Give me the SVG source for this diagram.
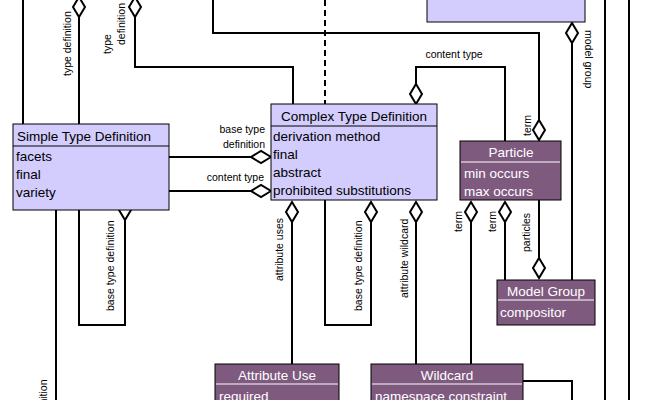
<svg xmlns="http://www.w3.org/2000/svg" width="650" height="400" viewBox="0 0 650 400">
<style>
text{font-family:"Liberation Sans",Arial,sans-serif}
.lt{fill:#d3cdfd;stroke:#000;stroke-width:1}
.dk{fill:#7f5a7f;stroke:#000;stroke-width:1}
.ht{font-size:13.5px;fill:#000}
.hw{font-size:13.5px;fill:#fff}
.sepl{stroke:#000;stroke-width:1}
.sepd{stroke:#fff;stroke-width:1}
.lbl{font-size:10.5px;fill:#000}
.c{fill:none;stroke:#000;stroke-width:2}
.d{fill:#fff;stroke:#000;stroke-width:2}
</style>
<rect width="650" height="400" fill="#fff"/>
<g id="connectors">
<path class="c" d="M23 0V124"/>
<path class="c" d="M79 16V124"/>
<path class="c" d="M135 16V67H293V104"/>
<path class="c" d="M213 0V33H539V120"/>
<path class="c" d="M325 0V104" stroke-dasharray="6,4"/>
<path class="c" d="M416 84V67H505V141"/>
<path class="c" d="M572 43V280"/>
<path class="c" d="M605 0V400"/>
<path class="c" d="M629 0V400"/>
<path class="c" d="M169 157H251"/>
<path class="c" d="M169 191H251"/>
<path class="c" d="M56 210V400"/>
<path class="c" d="M79 210V325H125V220"/>
<path class="c" d="M292 222V364"/>
<path class="c" d="M325 200V325H371V222"/>
<path class="c" d="M416 222V364"/>
<path class="c" d="M471 222V364"/>
<path class="c" d="M505 222V280"/>
<path class="c" d="M539 200V258"/>
<path class="c" d="M523 381H572V400"/>
<path class="d" d="M79 -3l6 10-6 10-6-10z"/>
<path class="d" d="M135 -3l6 10-6 10-6-10z"/>
<path class="d" d="M539 120l6 10-6 10-6-10z"/>
<path class="d" d="M416 84l6 10-6 10-6-10z"/>
<path class="d" d="M572 23l6 10-6 10-6-10z"/>
<path class="d" d="M271 157l-10 6-10-6 10-6z"/>
<path class="d" d="M271 191l-10 6-10-6 10-6z"/>
<path class="d" d="M125 200l6 10-6 10-6-10z"/>
<path class="d" d="M292 202l6 10-6 10-6-10z"/>
<path class="d" d="M371 202l6 10-6 10-6-10z"/>
<path class="d" d="M416 202l6 10-6 10-6-10z"/>
<path class="d" d="M471 202l6 10-6 10-6-10z"/>
<path class="d" d="M505 202l6 10-6 10-6-10z"/>
<path class="d" d="M539 258l6 10-6 10-6-10z"/>
<text class="lbl" transform="translate(71,76) rotate(-90)">type definition</text>
<text class="lbl" transform="translate(111,44) rotate(-90)" text-anchor="middle">type</text>
<text class="lbl" transform="translate(125,24) rotate(-90)" text-anchor="middle">definition</text>
<text class="lbl" x="454" y="58" text-anchor="middle">content type</text>
<text class="lbl" transform="translate(531,136) rotate(-90)">term</text>
<text class="lbl" transform="translate(585,30) rotate(90)">model group</text>
<text class="lbl" x="265" y="133" text-anchor="end">base type</text>
<text class="lbl" x="265" y="148" text-anchor="end">definition</text>
<text class="lbl" x="264" y="181" text-anchor="end">content type</text>
<text class="lbl" transform="translate(114,311) rotate(-90)">base type definition</text>
<text class="lbl" transform="translate(47,470) rotate(-90)">base type definition</text>
<text class="lbl" transform="translate(283,281) rotate(-90)">attribute uses</text>
<text class="lbl" transform="translate(362,311) rotate(-90)">base type definition</text>
<text class="lbl" transform="translate(408,298) rotate(-90)">attribute wildcard</text>
<text class="lbl" transform="translate(462,232) rotate(-90)">term</text>
<text class="lbl" transform="translate(496,232) rotate(-90)">term</text>
<text class="lbl" transform="translate(530,252) rotate(-90)">particles</text>
</g>
<g id="top-node"><rect class="lt" x="427" y="-2" width="158" height="24"/></g>
<g id="simple-type">
<rect class="lt" x="13" y="124" width="156" height="86"/>
<line class="sepl" x1="13" y1="146" x2="169" y2="146"/>
<text class="ht" x="17" y="141">Simple Type Definition</text>
<text class="ht" x="16" y="161">facets</text>
<text class="ht" x="16" y="179">final</text>
<text class="ht" x="16" y="197">variety</text>
</g>
<g id="complex-type">
<rect class="lt" x="271" y="104" width="166" height="96"/>
<line class="sepl" x1="271" y1="126" x2="437" y2="126"/>
<text class="ht" x="354" y="121" text-anchor="middle">Complex Type Definition</text>
<text class="ht" x="273" y="141">derivation method</text>
<text class="ht" x="273" y="159">final</text>
<text class="ht" x="273" y="177">abstract</text>
<text class="ht" x="273" y="195">prohibited substitutions</text>
</g>
<g id="particle">
<rect class="dk" x="460" y="141" width="101" height="59"/>
<line class="sepd" x1="461" y1="162" x2="560" y2="162"/>
<text class="hw" x="511" y="157" text-anchor="middle">Particle</text>
<text class="hw" x="464" y="178">min occurs</text>
<text class="hw" x="464" y="196">max occurs</text>
</g>
<g id="model-group">
<rect class="dk" x="497" y="280" width="98" height="45"/>
<line class="sepd" x1="498" y1="300" x2="594" y2="300"/>
<text class="hw" x="546" y="296" text-anchor="middle">Model Group</text>
<text class="hw" x="500" y="317">compositor</text>
</g>
<g id="attribute-use">
<rect class="dk" x="215" y="364" width="124" height="40"/>
<line class="sepd" x1="216" y1="384" x2="338" y2="384"/>
<text class="hw" x="277" y="380" text-anchor="middle">Attribute Use</text>
<text class="hw" x="219" y="401">required</text>
</g>
<g id="wildcard">
<rect class="dk" x="371" y="364" width="152" height="40"/>
<line class="sepd" x1="372" y1="384" x2="522" y2="384"/>
<text class="hw" x="447" y="380" text-anchor="middle">Wildcard</text>
<text class="hw" x="375" y="401">namespace constraint</text>
</g>
</svg>
